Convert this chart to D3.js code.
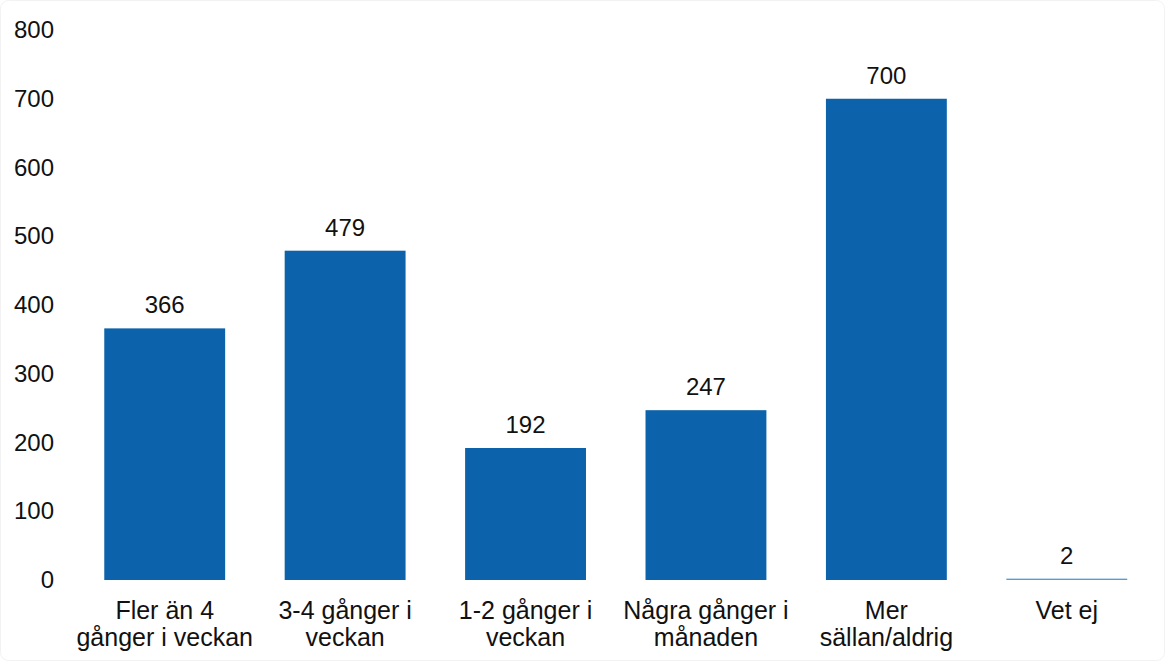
<!DOCTYPE html>
<html>
<head>
<meta charset="utf-8">
<script src="https://cdn.jsdelivr.net/npm/d3@7"></script>
<style>
  html, body { margin: 0; padding: 0; background: #fff; }
  svg { display: block; font-family: "Liberation Sans", Arial, Helvetica, sans-serif; }
</style>
</head>
<body>
<svg id="chart" width="1165" height="661"></svg>
<script>
const categories = [
  "Fler än 4\ngånger i veckan",
  "3-4 gånger i\nveckan",
  "1-2 gånger i\nveckan",
  "Några gånger i\nmånaden",
  "Mer\nsällan/aldrig",
  "Vet ej"
];
const values = [366, 479, 192, 247, 700, 2];
const yTicks = [0, 100, 200, 300, 400, 500, 600, 700, 800];

const svg = d3.select("#chart");
const W = 1165, H = 661;

svg.append("rect")
  .attr("x", 0.5).attr("y", 0.5).attr("width", W - 1).attr("height", H - 1)
  .attr("rx", 8)
  .attr("fill", "#fff").attr("stroke", "#f2f2f2");

const x = d3.scaleBand()
  .domain(categories)
  .range([74.5, 1157])
  .paddingInner(0.33)
  .paddingOuter(0.165);

const y = d3.scaleLinear()
  .domain([0, 800])
  .range([580, 30]);

const barColor = "#0c63ab";

// y axis (labels only)
const yAxis = d3.axisLeft(y).tickValues(yTicks).tickSize(0).tickPadding(0);
const gy = svg.append("g").attr("transform", "translate(54,0)").call(yAxis);
gy.select(".domain").remove();
gy.selectAll("text")
  .attr("font-size", 24)
  .attr("fill", "#111")
  .attr("font-family", "Liberation Sans, Arial, sans-serif");

// bars
svg.append("g").selectAll("rect")
  .data(values)
  .join("rect")
  .attr("x", (d, i) => x(categories[i]))
  .attr("width", x.bandwidth())
  .attr("y", d => y(d))
  .attr("height", d => Math.max(1.3, y(0) - y(d)))
  .attr("fill", (d, i) => d < 10 ? "#5b9bd5" : barColor);

// value labels
svg.append("g").selectAll("text")
  .data(values)
  .join("text")
  .attr("x", (d, i) => x(categories[i]) + x.bandwidth() / 2)
  .attr("y", d => y(d) - 15)
  .attr("text-anchor", "middle")
  .attr("font-size", 24)
  .attr("fill", "#111")
  .text(d => d);

// x axis (labels only)
const xAxis = d3.axisBottom(x).tickSize(0).tickPadding(0);
const gx = svg.append("g").attr("transform", "translate(0,580)").call(xAxis);
gx.select(".domain").remove();
gx.selectAll(".tick text").each(function(d) {
  const t = d3.select(this);
  t.text(null)
    .attr("y", 0)
    .attr("dy", null)
    .attr("font-size", 25)
    .attr("fill", "#111")
    .attr("font-family", "Liberation Sans, Arial, sans-serif");
  d.split("\n").forEach((line, i) => {
    t.append("tspan")
      .attr("x", 0)
      .attr("y", 39 + i * 27)
      .text(line);
  });
});
</script>
</body>
</html>
